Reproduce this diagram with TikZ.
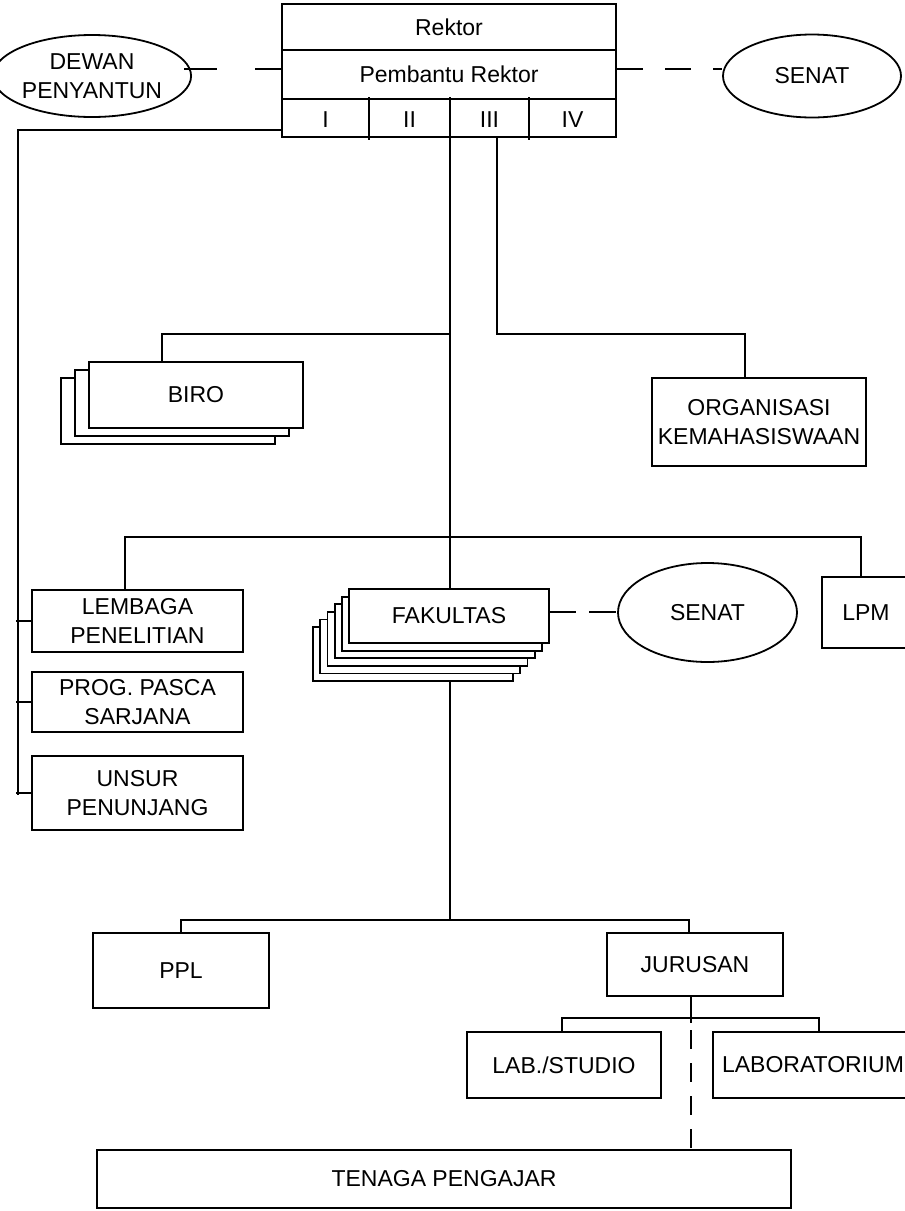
\documentclass[tikz,border=0pt]{standalone}
\usepackage{fontspec}
\setmainfont{Liberation Sans}
\usetikzlibrary{shapes.geometric}
\usetikzlibrary{positioning}
\usetikzlibrary{calc}

\begin{document}
\begin{tikzpicture}[x=1pt, y=-1pt, line width=1.8pt,
  every node/.style={font=\fontsize{23}{28.5}\selectfont, align=center, inner sep=0pt},
  box/.style={draw, rectangle, fill=white, outer sep=0pt},
  oval/.style={draw, ellipse, fill=white},
  gap/.style={dash pattern=on 27pt off 13pt}]

        \clip (0,0) rectangle (905,1211);

        % trunk first, the stacks cover it
        \coordinate (t0) at (450,137);
        \coordinate (t1) at (450,334);
        \coordinate (t3) at (450,920);
        \draw (t0) -- (t3);

        % Rektor block
        \node[box, minimum width=334pt, minimum height=46pt] (rektor) at (449,27) {Rektor};
        \node[box, minimum width=334pt, minimum height=49pt, below=0pt of rektor] (pr) {Pembantu Rektor};
        \node[box, minimum width=334pt, minimum height=38pt, below=0pt of pr] (prow) {};
        \node (pi) at (325.5,120) {I};
        \node (pii) at (409.5,120) {II};
        \node (piii) at (489.5,120) {III};
        \node (piv) at (572.5,120) {IV};
        \foreach \x in {369,450,529} {
          \draw (\x,97) -- (\x,140);
        }

        \node[oval, minimum width=184pt, minimum height=82pt] (dewan) at (92,76) {DEWAN\\PENYANTUN};
        \node[oval, minimum width=178pt, minimum height=83pt] (senat) at (812,76) {SENAT};

        % stacked boxes, back to front
        \foreach \i in {2,1} {
          \node[box, minimum width=214pt, minimum height=66pt] (biro\i) at (196-14*\i, 395+8*\i) {};
        }
        \node[box, minimum width=214pt, minimum height=66pt] (biro) at (196,395) {BIRO};

        \foreach \i in {5,4,...,1} {
          \node[box, minimum width=200pt, minimum height=54pt] (fak\i) at (449-7.2*\i, 616+7.6*\i) {};
        }
        \node[box, minimum width=200pt, minimum height=54pt] (fak) at (449,616) {FAKULTAS};

        \node[box, minimum width=214pt, minimum height=88pt] (org) at (759,422) {ORGANISASI\\KEMAHASISWAAN};
        \node[oval, minimum width=179pt, minimum height=99pt] (senat2) at (707.5,612.5) {SENAT};
        \node[box, minimum width=88pt, minimum height=71pt] (lpm) at (866,612.5) {LPM};

        \node[box, minimum width=211pt, minimum height=62pt] (lembaga) at (137.5,621) {LEMBAGA\\PENELITIAN};
        \node[box, minimum width=211pt, minimum height=60pt] (pasca) at (137.5,702) {PROG. PASCA\\SARJANA};
        \node[box, minimum width=211pt, minimum height=74pt] (unsur) at (137.5,793) {UNSUR\\PENUNJANG};

        \node[box, minimum width=176pt, minimum height=75pt] (ppl) at (181,970.5) {PPL};
        \node[box, minimum width=176pt, minimum height=63pt] (jur) at (695,964.5) {JURUSAN};
        \node[box, minimum width=194pt, minimum height=66pt] (lab) at (564,1065) {LAB./STUDIO};
        \node[box, minimum width=200pt, minimum height=66pt] (labor) at (813,1065) {LABORATORIUM};
        \node[box, minimum width=694pt, minimum height=58pt] (tenaga) at (444,1179) {TENAGA PENGAJAR};

        % dashed links
        \coordinate (dl) at (184,69);
        \coordinate (dr) at (617,69);
        \draw[dash pattern=on 33pt off 38pt] (dl) -- (dl -| pr.west);
        \draw[dash pattern=on 26pt off 22pt] (dr) -- (dr -| senat.west);
        \draw[gap] ([yshift=4pt]fak.east) -- ([yshift=4pt]fak.east -| senat2.west);

        % left line
        \coordinate (lt) at (282,130);
        \coordinate (lb) at (18,795);
        \draw (lt) -| (lb);
        \draw ([xshift=-2pt]lb |- lembaga.west) -- (lembaga.west);
        \draw ([xshift=-2pt]lb |- pasca.west) -- (pasca.west);
        \draw ([xshift=-2pt]lb |- unsur.west) -- (unsur.west);

        % BIRO and ORGANISASI
        \coordinate (b1) at (162,334);
        \draw (t1) -- (b1) -- (b1 |- biro.north);
        \coordinate (o1) at (497,137);
        \coordinate (o2) at (745,334);
        \draw (o1) |- (o2) -- (o2 |- org.north);

        % LEMBAGA and LPM
        \coordinate (r1) at (125,537);
        \coordinate (r2) at (861,537);
        \draw (r1 |- lembaga.north) -- (r1) -- (r2) -- (r2 |- lpm.north);

        % PPL and JURUSAN
        \coordinate (q1) at (181,920);
        \coordinate (q2) at (689,920);
        \draw (q1 |- ppl.north) -- (q1) -- (q2) -- (q2 |- jur.north);

        \coordinate (j0) at (691,1023);
        \draw (j0 |- jur.south) -- (j0);
        \coordinate (s1) at (562,1018);
        \coordinate (s2) at (819,1018);
        \draw (s1 |- lab.north) -- (s1) -- (s2) -- (s2 |- labor.north);
        \draw[dash pattern=on 19pt off 14pt, dash phase=26pt] (j0) -- (j0 |- tenaga.north);

\end{tikzpicture}
\end{document}
